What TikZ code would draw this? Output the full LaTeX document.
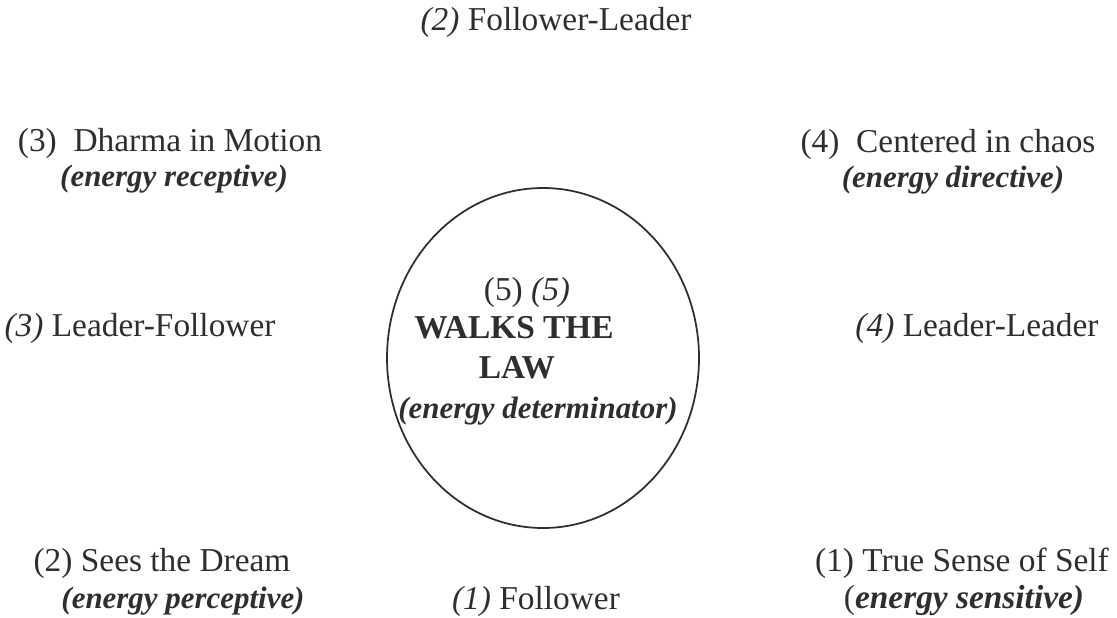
\documentclass[tikz,border=0pt]{standalone}
\usepackage{fontspec}
\setmainfont{Liberation Serif}[
  BoldFont={Liberation Serif Bold},
  ItalicFont={Liberation Serif Italic},
  BoldItalicFont={Liberation Serif Bold Italic}]
\definecolor{ink}{HTML}{2E2E2E}
\begin{document}
\begin{tikzpicture}[
  txt/.style={inner sep=0pt, text=ink, font=\fontsize{19}{22}\selectfont},
  sub/.style={txt, font=\fontsize{17.6}{21}\selectfont\bfseries\itshape},
  ring/.style={draw=ink, line width=1pt}]
\useasboundingbox (0,0) rectangle (22.34,12.34);
% circle in the middle
\coordinate (ctr) at (10.86,5.18);
\draw[ring] (ctr) ellipse [x radius=3.12, y radius=3.4];
\node[txt] (five) at (10.54,6.50) {(5) \textit{(5)}};
\node[txt, font=\fontsize{19}{22}\selectfont\bfseries] (walks) at (10.28,5.78) {WALKS THE};
\node[txt, font=\fontsize{19}{22}\selectfont\bfseries] (law) at (10.34,4.98) {LAW};
\node[sub] (determ) at (10.76,4.12) {(energy determinator)};
% top
\node[txt] (fl) at (11.12,11.90) {\textit{(2)} Follower-Leader};
% upper corners
\node[txt] (dharma) at (3.40,9.48) {(3)\ \ Dharma in Motion};
\node[sub] (recep) at (3.48,8.76) {(energy receptive)};
\node[txt] (chaos) at (18.96,9.46) {(4)\ \ Centered in chaos};
\node[sub] (direc) at (19.06,8.74) {(energy directive)};
% sides
\node[txt] (lf) at (2.80,5.78) {\textit{(3)} Leader-Follower};
\node[txt] (ll) at (19.54,5.78) {\textit{(4)} Leader-Leader};
% lower corners
\node[txt] (dream) at (3.24,1.08) {(2) Sees the Dream};
\node[sub] (percep) at (3.66,0.32) {(energy perceptive)};
\node[txt] (self) at (19.24,1.08) {(1) True Sense of Self};
\node[txt] (sensi) at (19.28,0.32) {(\textbf{\textit{energy sensitive)}}};
% bottom
\node[txt] (fol) at (10.72,0.32) {\textit{(1)} Follower};
\end{tikzpicture}
\end{document}
